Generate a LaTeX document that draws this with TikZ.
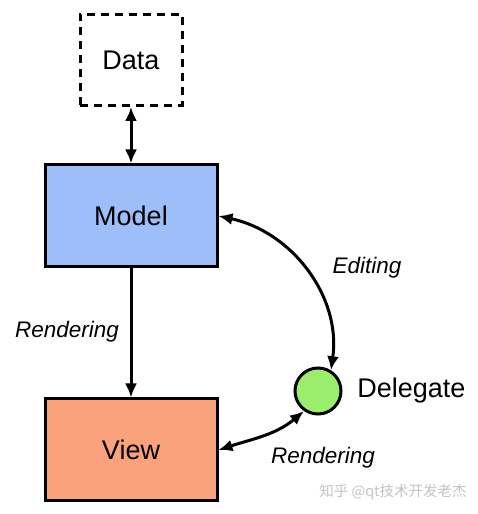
\documentclass[tikz,border=0pt]{standalone}
\usepackage{fontspec}
\setmainfont{Liberation Sans}
\newfontfamily\cjkfont{Noto Sans CJK SC}
\usetikzlibrary{arrows.meta}

\definecolor{modelblue}{RGB}{158,190,250}
\definecolor{vieworange}{RGB}{250,162,124}
\definecolor{delegategreen}{RGB}{155,238,108}
\definecolor{markgray}{RGB}{195,195,195}

\begin{document}
\begin{tikzpicture}[x=1pt, y=1pt, node distance=156pt, line width=3pt,
    >={Latex[length=14pt,width=12pt]},
    layer/.style={rectangle, draw, minimum width=172pt, minimum height=102pt, font=\fontsize{27}{30}\selectfont},
    flowlabel/.style={font=\fontsize{22.5}{26}\selectfont\itshape}]
    \useasboundingbox (0,0) rectangle (478,514);

    % Layers
    \node[rectangle, draw, dashed, dash pattern=on 8pt off 6pt, minimum width=102pt, minimum height=91pt,
          font=\fontsize{27}{30}\selectfont] (data) at (131,454) {Data};
    \node[layer, fill=modelblue, below of=data] (model) {Model};
    \node[layer, fill=vieworange, below of=model, node distance=234pt] (view) {View};
    \node[circle, draw, fill=delegategreen, minimum size=46pt, inner sep=0pt] (delegate) at (318,123) {};

    % Dependencies
    \draw[<->] (data) -- (model);
    \draw[->] (model) -- (view);
    \draw[<->] (model.east) to[out=-12, in=82] (delegate.58);
    \draw[<->] (view.east) to[out=18, in=-140] (delegate.235);

    % Labels
    \node[anchor=west, font=\fontsize{27}{30}\selectfont] (delegatetext) at ([xshift=10pt]delegate.east) {Delegate};
    \node[flowlabel] (editing) at (367,246) {Editing};
    \node[flowlabel] (rendermodel) at (67,182) {Rendering};
    \node[flowlabel] (renderdelegate) at (323,56) {Rendering};
    \node[text=markgray, font=\fontsize{14.5}{17}\cjkfont] (mark) at (393,22) {知乎 @qt技术开发老杰};
\end{tikzpicture}
\end{document}
